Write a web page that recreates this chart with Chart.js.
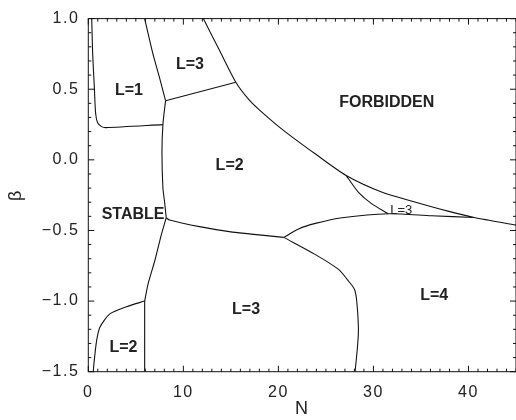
<!DOCTYPE html>
<html>
<head>
<meta charset="utf-8">
<script src="https://cdn.jsdelivr.net/npm/chart.js@4.4.0/dist/chart.umd.min.js"></script>
<style>
html, body { margin: 0; padding: 0; background: #fff; }
</style>
</head>
<body>
<canvas id="myChart" width="516" height="420"></canvas>
<script>
// axis ticks
var xTicks = [0, 10, 20, 30, 40];
var yTicks = [-1.5, -1.0, -0.5, 0.0, 0.5, 1.0];

// phase boundaries, [N, beta] pairs
var l1Edge = [[0.36, 1.0], [0.46, 0.75], [0.63, 0.52], [0.77, 0.33], [0.98, 0.262], [1.4, 0.235], [1.85, 0.228], [7.85, 0.249]];
var l1l3Edge = [[5.93, 1.0], [6.8, 0.75], [7.5, 0.58], [8.13, 0.419]];
var l3l2Edge = [[8.13, 0.419], [15.52, 0.55]];
var stableEdge = [[8.13, 0.419], [7.85, 0.249], [7.75, 0.05], [7.85, -0.2], [8.03, -0.30], [8.2, -0.41]];
var forbiddenEdge = [[12.1, 1.0], [13.8, 0.776], [15.52, 0.55], [16.9, 0.426], [17.96, 0.356], [20.4, 0.216], [23.9, 0.041], [27.13, -0.111], [30.86, -0.228], [34.35, -0.298], [37.84, -0.363], [40.6, -0.408], [45, -0.462]];
var smallL3Edge = [[27.13, -0.111], [27.37, -0.134], [28.4, -0.228], [29.8, -0.31], [31.56, -0.382]];
var l2l4Edge = [[20.57, -0.549], [22.13, -0.489], [23.9, -0.45], [26.7, -0.41], [31.56, -0.382], [36.1, -0.396], [40.6, -0.408]];
var stableL3Edge = [[8.2, -0.41], [8.55, -0.426], [11.7, -0.473], [15.17, -0.512], [17.96, -0.531], [20.57, -0.549]];
var l3l4Edge = [[20.57, -0.549], [23.9, -0.671], [26.33, -0.776], [27.37, -0.858], [28.0, -0.916], [28.24, -0.998], [28.42, -1.185], [28.35, -1.30], [28.07, -1.5]];
var lowerStableEdge = [[8.2, -0.41], [7.68, -0.531], [6.98, -0.718], [6.28, -0.881], [5.93, -1.0]];
var l2Vertical = [[5.93, -1.0], [5.93, -1.5]];
var lowerL2Edge = [[5.93, -1.0], [4.02, -1.04], [2.27, -1.091], [1.22, -1.185], [0.88, -1.278], [0.63, -1.418], [0.52, -1.5]];

// region labels
var regionText = ['L=1', 'L=3', 'FORBIDDEN', 'L=2', 'STABLE', 'L=3', 'L=4', 'L=2'];
var regionN = [4.28, 10.69, 31.4, 14.87, 4.71, 16.6, 36.4, 3.7];
var regionBeta = [0.499, 0.685, 0.415, -0.029, -0.376, -1.05, -0.954, -1.318];

// the small label in the thin sliver
var noteText = ['L=3'];
var noteN = [32.92];
var noteBeta = [-0.348];

var edges = [l1Edge, l1l3Edge, l3l2Edge, stableEdge, forbiddenEdge, smallL3Edge, l2l4Edge,
             stableL3Edge, l3l4Edge, lowerStableEdge, l2Vertical, lowerL2Edge];

var fontFamily = "'Liberation Sans', Arial, Helvetica, sans-serif";

function minus(s) { return s.replace('-', '\u2212'); }

// wider spacing for the axis numbers, like the original
var spacing = {
    id: 'spacing',
    beforeLayout: function(chart) { chart.ctx.letterSpacing = '1.5px'; },
    beforeDraw: function(chart) { chart.ctx.letterSpacing = '1.5px'; },
    afterDatasetsDraw: function(chart) { chart.ctx.letterSpacing = '0px'; }
};

var frameTicks = {
    id: 'frameTicks',
    afterDatasetsDraw: function(chart) {
        var ctx = chart.ctx;
        var a = chart.chartArea;
        var xs = chart.scales.x, ys = chart.scales.y;
        ctx.save();
        ctx.letterSpacing = '0px';
        ctx.strokeStyle = '#111';
        ctx.lineWidth = 1;
        ctx.strokeRect(a.left, a.top, a.right - a.left, a.bottom - a.top);
        ctx.beginPath();
        for (var i = 0; i <= 45; i++) {
            var px = xs.getPixelForValue(i);
            var len = (i % 10 === 0) ? 6 : 3;
            ctx.moveTo(px, a.bottom); ctx.lineTo(px, a.bottom - len);
            ctx.moveTo(px, a.top); ctx.lineTo(px, a.top + len);
        }
        for (var j = -15; j <= 10; j++) {
            var py = ys.getPixelForValue(j / 10);
            var l = (j % 5 === 0) ? 6 : 3;
            ctx.moveTo(a.left, py); ctx.lineTo(a.left + l, py);
            ctx.moveTo(a.right, py); ctx.lineTo(a.right - l, py);
        }
        ctx.stroke();

        ctx.fillStyle = '#222';
        ctx.textAlign = 'center';
        ctx.textBaseline = 'alphabetic';
        ctx.font = 'bold 16px ' + fontFamily;
        for (var k = 0; k < regionText.length; k++) {
            ctx.fillText(regionText[k], xs.getPixelForValue(regionN[k]),
                         ys.getPixelForValue(regionBeta[k]) + 16 * 0.358);
        }
        ctx.font = '13px ' + fontFamily;
        for (var m = 0; m < noteText.length; m++) {
            ctx.fillText(noteText[m], xs.getPixelForValue(noteN[m]),
                         ys.getPixelForValue(noteBeta[m]) + 13 * 0.358);
        }
        ctx.restore();
    }
};

function createChart() {
    var ctx = document.getElementById('myChart');
    var datasets = edges.map(function(e) {
        return {
            data: e.map(function(p) { return {x: p[0], y: p[1]}; }),
            showLine: true,
            borderColor: '#111',
            borderWidth: 1.1,
            pointRadius: 0,
            tension: 0.25,
            fill: false
        };
    });
    new Chart(ctx, {
        type: 'scatter',
        data: { datasets: datasets },
        plugins: [spacing, frameTicks],
        options: {
            responsive: false,
            animation: false,
            layout: { padding: { top: 14.7, right: -2.5, bottom: 0, left: 0 } },
            plugins: { legend: { display: false }, tooltip: { enabled: false } },
            scales: {
                x: {
                    type: 'linear', min: 0, max: 45,
                    afterBuildTicks: function(s) { s.ticks = xTicks.map(function(v) { return {value: v}; }); },
                    afterFit: function(s) { s.height = 48.3; },
                    grid: { display: false, drawTicks: false },
                    border: { display: false },
                    ticks: {
                        font: { family: fontFamily, size: 16 }, color: '#222', padding: 11,
                        maxRotation: 0, autoSkip: false,
                        callback: function(v) { return String(v); }
                    },
                    title: {
                        display: true, text: 'N', color: '#222',
                        font: { family: fontFamily, size: 18 },
                        padding: { top: 0, bottom: 0 }
                    }
                },
                y: {
                    type: 'linear', min: -1.5, max: 1.0,
                    afterBuildTicks: function(s) { s.ticks = yTicks.map(function(v) { return {value: v}; }); },
                    afterFit: function(s) { s.width = 88.3; },
                    grid: { display: false, drawTicks: false },
                    border: { display: false },
                    ticks: {
                        font: { family: fontFamily, size: 16 }, color: '#222', padding: 9,
                        autoSkip: false,
                        callback: function(v) { return minus(v.toFixed(1)); }
                    },
                    title: {
                        display: true, text: '\u03b2', color: '#222',
                        font: { family: fontFamily, size: 18 },
                        padding: { top: 5, bottom: 0 }
                    }
                }
            }
        }
    });
}

createChart();
</script>
</body>
</html>
